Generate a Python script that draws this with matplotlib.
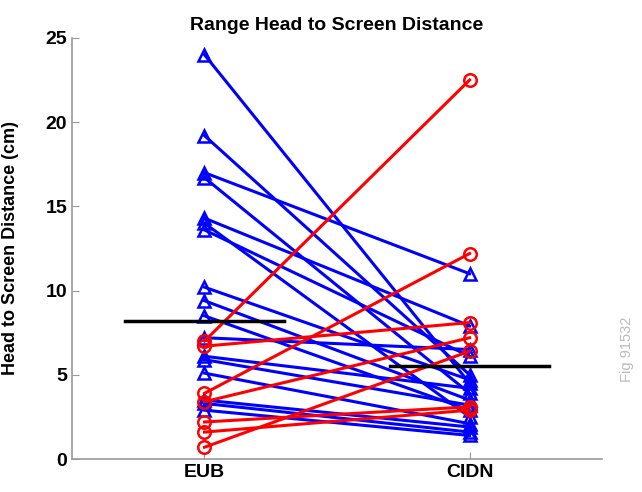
import numpy as np
import matplotlib
matplotlib.use("Agg")
import matplotlib.pyplot as plt

plt.rcParams['font.family'] = ['Liberation Sans', 'DejaVu Sans']

# data (cm), each row: EUB value -> CIDN value
groups = ["EUB", "CIDN"]
blue_eub = [24.0, 19.2, 17.0, 16.7, 14.3, 14.0, 13.6, 10.2, 9.4, 8.5, 7.2, 6.1, 5.9, 5.1, 3.5, 3.3, 2.9]
blue_cidn = [4.5, 5.0, 11.0, 3.9, 7.9, 2.5, 6.1, 4.7, 3.5, 2.9, 6.5, 4.2, 3.2, 2.1, 1.9, 1.6, 1.4]
red_eub = [7.0, 6.7, 3.9, 3.4, 2.2, 1.6, 0.7]
red_cidn = [22.5, 8.1, 12.2, 7.2, 3.1, 2.9, 6.4]
group_means = [8.2, 5.5]

fig = plt.figure(figsize=(6.42, 4.92), dpi=100)
ax = fig.add_axes([0.112, 0.067, 0.826, 0.856])

x = [1, 2]
for a, b in zip(blue_eub, blue_cidn):
    ax.plot(x, [a, b], '-^', color='blue', lw=2.2, ms=9, mew=1.8, mfc='none')
for a, b in zip(red_eub, red_cidn):
    ax.plot(x, [a, b], '-o', color='red', lw=2.2, ms=9, mew=1.8, mfc='none')

for i, m in enumerate(group_means):
    ax.plot([x[i] - 0.3, x[i] + 0.3], [m, m], color='black', lw=2.5)

ax.set_xlim(0.5, 2.5)
ax.set_ylim(0, 25)
ax.set_xticks(x)
ax.set_xticklabels(groups)
ax.set_yticks(np.arange(0, 26, 5))
ax.tick_params(direction='in', color='#999999', labelsize=14, length=5)
for lab in ax.get_xticklabels() + ax.get_yticklabels():
    lab.set_fontweight('bold')
for s in ['top', 'right']:
    ax.spines[s].set_visible(False)
for s in ['left', 'bottom']:
    ax.spines[s].set_color('#999999')
    ax.spines[s].set_linewidth(1.2)

ax.set_ylabel("Head to Screen Distance (cm)", fontsize=13, fontweight='bold')
ax.yaxis.set_label_coords(-0.1, 0.5)
ax.set_title("Range Head to Screen Distance", fontsize=14, fontweight='bold')

fig.text(0.977, 0.29, "Fig 91532", rotation=90, color='#bbbbbb', fontsize=10.5,
         ha='center', va='center')

fig.savefig("out.png", dpi=100)
